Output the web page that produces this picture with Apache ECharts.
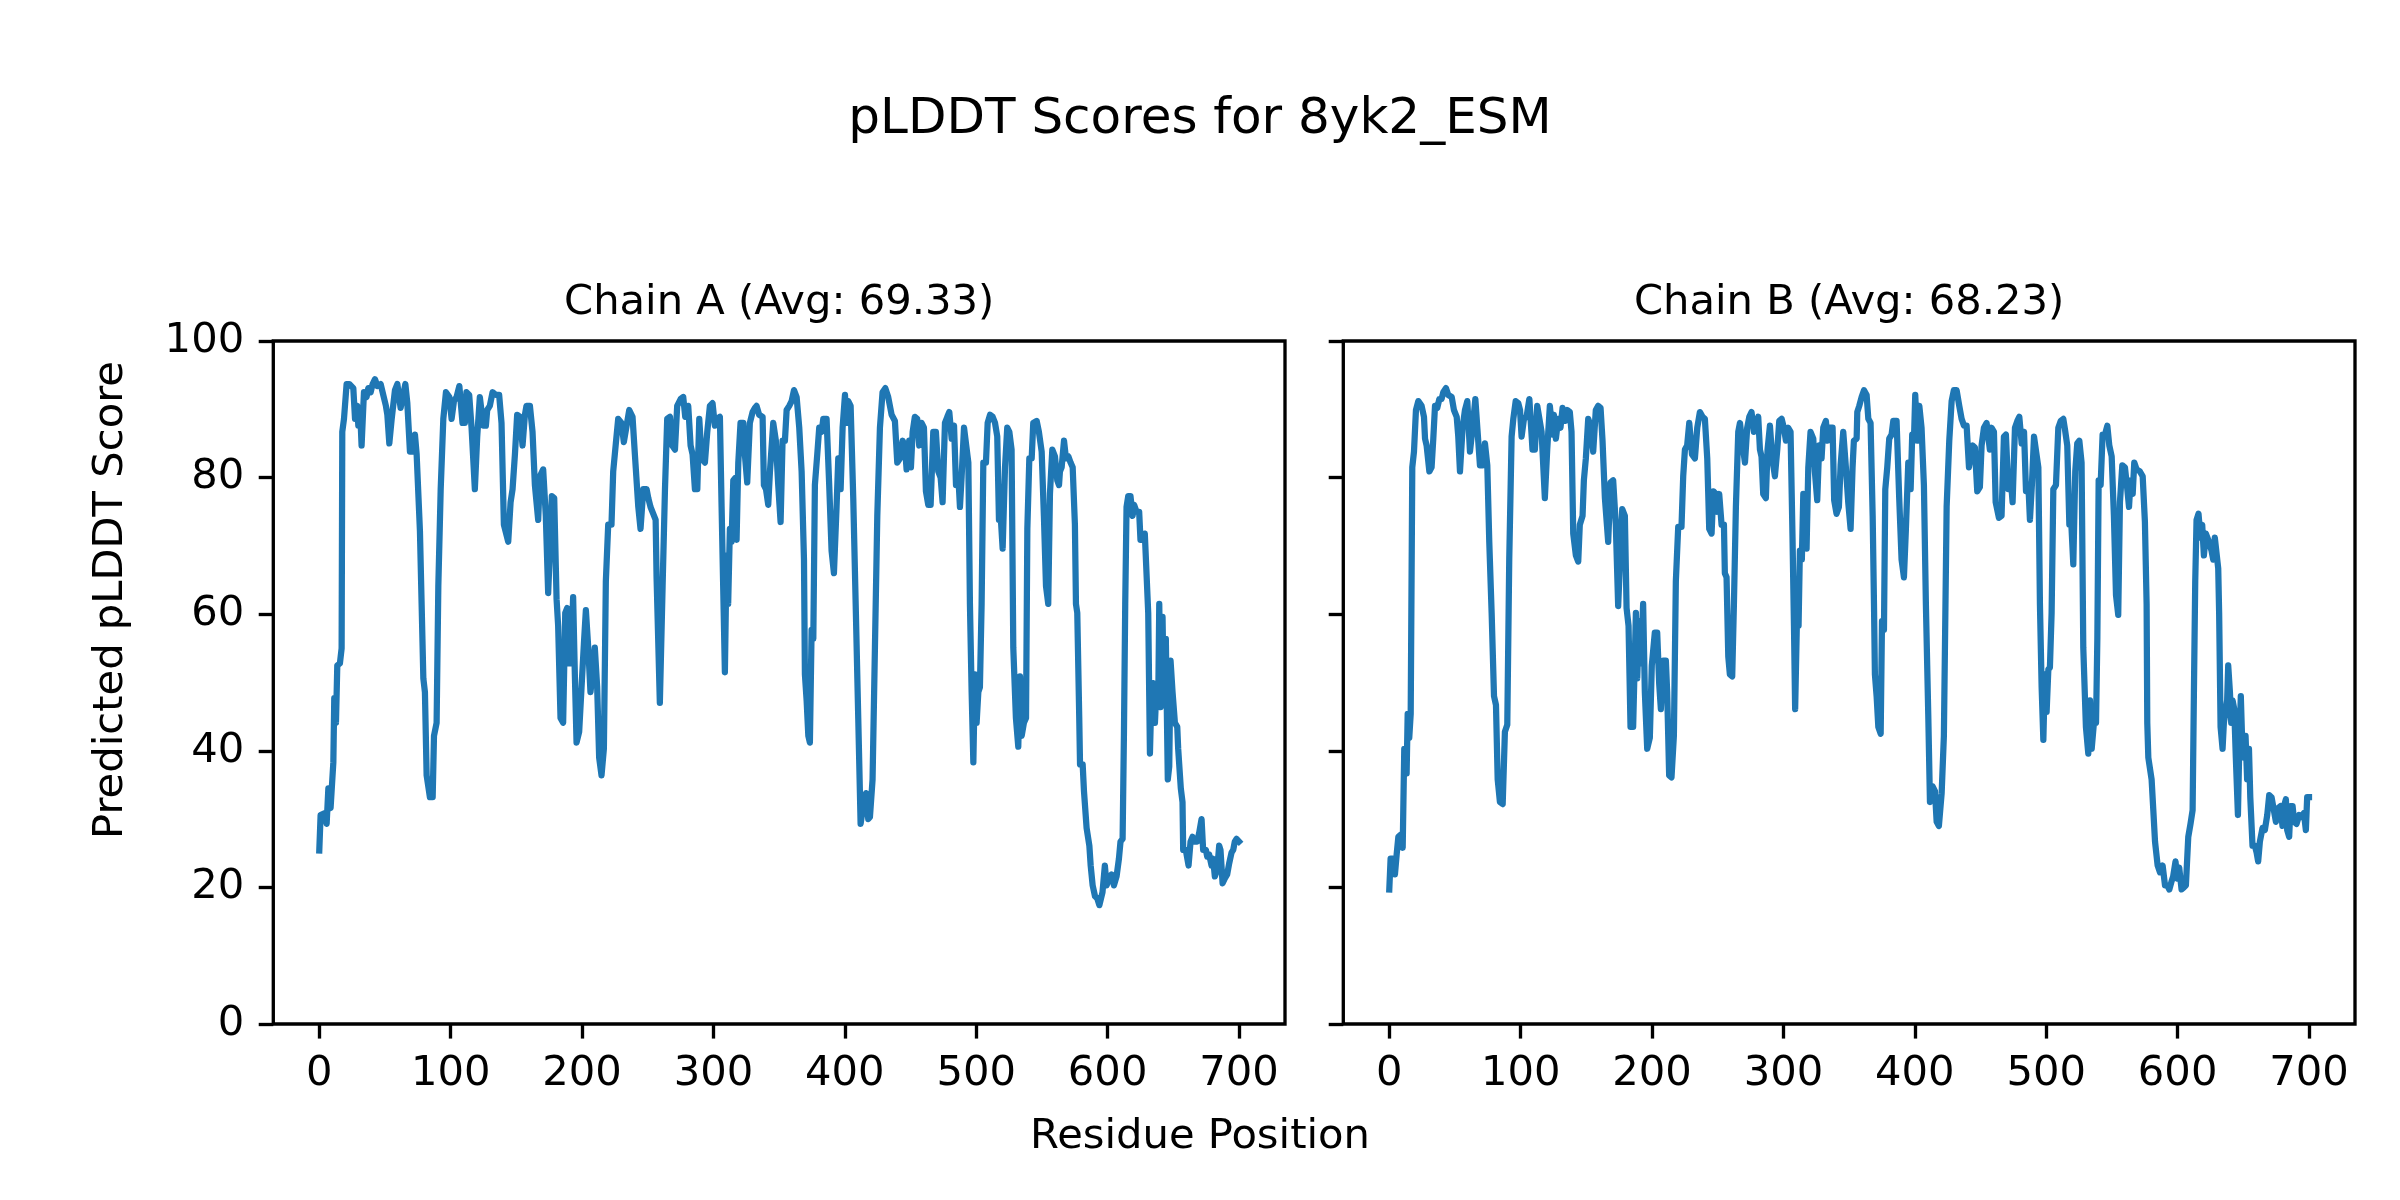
<!DOCTYPE html>
<html>
<head>
<meta charset="utf-8">
<script src="https://cdn.jsdelivr.net/npm/echarts@6/dist/echarts.min.js"></script>
<style>
html,body{margin:0;padding:0;background:#fff;}
#chart{width:2400px;height:1200px;}
</style>
</head>
<body>
<div id="chart"></div>
<script>
const figTitle = 'pLDDT Scores for 8yk2_ESM';
const chainTitles = ['Chain A (Avg: 69.33)', 'Chain B (Avg: 68.23)'];
const xLabel = 'Residue Position';
const yLabel = 'Predicted pLDDT Score';
const xTicks = [0, 100, 200, 300, 400, 500, 600, 700];

const resA = [0,1,4.3,5.6,6.9,8.6,9.9,10.7,11.4,12.7,13.7,15.7,17,17.5,18.8,20.8,22.8,25.9,27.2,28.9,29.7,31,32.2,34,36,37.3,39.1,40.6,42.4,44.2,46.7,48.7,50.7,51.8,53.3,55.1,57.6,59.4,61.9,63.9,65.5,67,69,71.1,72.8,74.1,76.6,79.2,80.4,81.7,84.2,86.3,87.3,89.3,90.6,92.4,94.4,96.4,99,100.7,102.5,104.5,106.6,
109,110.8,112,114.1,115.9,118.4,120.2,122.2,124.8,126.8,127.8,129.8,131.9,134.4,136.9,138.7,140.5,143.8,145.6,147.1,148.9,150.6,152.7,154.7,156.5,157.7,160.3,162.3,164.1,166.6,167.9,170.4,172.4,174.2,175.5,177,178.8,180.6,181.8,183.6,185.6,187.2,188.7,189.7,191.5,193.2,194.5,195.8,197.8,199.6,201.4,202.9,204.7,206.4,208,209.7,211.5,213,214.8,216.6,218.1,219.9,222.4,223.7,225.7,227.5,
230,231.8,233.9,235.9,238.4,240.2,242.8,244.5,246.6,249.1,250.4,252.1,254.2,256,256.7,259.2,261.3,263.1,264.8,266.9,268.6,270.7,272.4,275,277,278.5,280.8,282.6,284.1,285.9,287.7,289.2,291,293.5,295.3,297.3,299.3,301.1,302.9,304.9,306.2,307.4,308.7,310,311.2,312.5,313.8,315.1,316.3,317.6,318.9,320.6,322.7,323.9,325.7,327.7,329.8,331.5,332.8,334.8,337.4,338.4,340,341.7,343,345.5,347.5,349.3,351.1,
352.6,354.4,355.7,357.7,359.5,361.3,363.3,365.3,367.1,368.9,369.6,370.9,372.2,373.4,374.7,376,377.2,379,380.5,382.3,383.6,386.1,388.1,389.9,391.7,393.7,395,396.8,398.3,400.1,401.3,402.6,404.4,406.4,408.4,410.2,412,414,416.1,417.8,419.1,421.1,422.9,424.7,426.7,428.7,430.8,433,435.6,438.1,439.9,441.9,444,445.7,447,449,450.3,451.6,453.3,455.1,456.6,458.4,460.2,461.7,463.5,465.3,467.3,469.3,471.1,472.9,474.4,
476.2,478,479.5,481.3,483.1,484.6,486.4,487.6,488.9,490.7,492.2,494,495.2,496.5,497.8,499,500.3,501.6,502.8,504.1,505.4,507.4,508.7,510.5,512.5,514.3,516,517.3,518.6,520.1,521.9,523.6,525.2,526.9,528.2,530.2,532,533.3,534.6,536.3,537.9,538.9,540.4,542.2,543.4,546,547.7,549.8,551.5,553.1,554.8,556.1,557.9,559.9,561.7,563,563.7,565,566.8,568.3,570.1,571.8,573.4,575.1,575.9,576.9,578.4,579,581,582,583.5,584,586.1,587.1,588.6,590.4,592.1,593.7,
596.1,597.9,599.2,601.2,603,604.8,606.8,608.6,609.8,611.4,612.4,613.4,614.4,615.7,617.4,619,620.2,622,624,625,627.1,628.3,629.6,630.9,632.2,633.4,634.7,636,637.2,638.5,639.3,640.3,641.8,642.8,644.3,645.8,646.9,647.9,649.4,651.2,653,653.7,655,655.7,657,657.5,659.5,661.6,663.1,664.6,666.4,668.2,669.7,671.5,672.7,674.8,675.8,677.3,679.1,680.3,681.6,683.4,684.9,685.9,687.5,689.2,691,692.5,694.3,695.6,696.8,698.1,700];
const scoreA = [25.4,30.6,30.9,29.3,34.5,31.6,31.6,38.3,47.7,44.1,52.5,52.8,55,86.7,88.6,93.7,93.7,93.1,88.6,90.5,87.6,90.2,84.7,92.5,91.8,93.1,92.5,93.7,94.4,93.4,93.7,92.1,90.5,89.2,85,88.6,92.8,93.7,90.2,92.1,93.7,90.9,83.8,83.8,86.3,83.4,72.2,50.6,48.6,36.4,33.2,33.2,42.2,44.1,64.1,78.3,88.6,92.5,91.8,88.6,91.2,91.8,93.4,
88,88,92.5,92.1,87.3,78.3,86,91.8,87.6,87.6,89.9,90.5,92.5,92.1,92.1,88,73.1,70.6,76.4,78.3,83.4,89.2,88.9,84.7,89.2,90.5,90.5,86.7,78.9,73.8,80.2,81.2,74.4,63.1,69.3,77.3,77,62.2,58.3,44.8,44.1,60.2,60.9,52.8,52.8,62.5,51.2,41.2,42.8,49.3,55.7,60.6,55.1,48.6,51.2,55.1,49.3,39,36.4,40.3,64.8,73.1,73.1,80.9,85,88.6,
88,85.2,87.6,89.9,88.9,83.4,75.7,72.5,78.3,78.3,77,75.7,74.7,73.8,65.4,47,64.1,78.3,88.6,88.9,84.7,84.1,90.5,91.5,91.8,88.9,90.5,84.7,83.4,78.3,78.3,88.6,82.8,82.2,86.7,90.5,90.9,87.6,88.6,88.9,75.7,64.1,51.5,68.6,61.5,72.5,70.6,79.6,79.9,70.9,82.2,88,88,83.4,79.3,88,89.6,90.2,90.5,89.2,88.9,78.9,78.3,76,80.9,88,85.4,78.9,73.5,
85.4,85.4,89.9,90.5,91.2,92.8,91.8,87.3,80.9,68,51.2,47.4,42.2,41.2,57.7,56.4,78.9,83.4,87.3,86.7,88.6,88.6,78.9,69.3,66,75.7,82.8,78.3,87.3,92.1,88,91.2,90.5,77,60.2,44.8,29.3,31.9,33.8,30,30.3,35.8,55.1,74.4,87.3,92.5,93.1,91.8,89.2,88.3,82.2,82.8,85.4,84.7,81.2,85.4,81.5,86.7,88.9,88.6,84.7,88,87.3,78,76,76,86.7,86.7,80.9,80,76.4,
88,88.9,89.6,85.7,87.6,78.9,80.2,75.7,80.2,87.3,87.3,82.2,61.5,48.6,38.3,51.2,44.1,48.6,49.3,61.5,82.2,82.2,88,89.2,88.9,88,86,73.8,74.4,69.6,81.5,87.3,86.7,84.1,55.1,44.8,40.6,50.9,42.2,44.1,44.8,72.5,82.8,82.8,88,88.3,86.7,83.8,74.4,64.1,61.5,77.6,84.1,83.1,79.6,78.9,80.9,81.5,85.4,82.8,83.1,82.2,81.5,73.1,61.5,60.2,44.8,38,38,34.1,34.1,28.7,26.1,23.2,20.3,18.7,18.4,17.4,
19.3,23.2,20.3,21.3,21.9,20.3,21.6,24.2,26.7,27.1,42.2,61.5,75.7,77.3,77.3,74.4,76,75,75,70.9,70.9,71.8,71.8,60.2,39.6,48.6,49.9,44.1,49.3,46.7,61.5,46.4,59.6,46.7,56.4,35.8,37.7,53.2,48.6,44.1,43.5,40.3,40.3,34.5,32.5,25.5,25.5,23.2,26.7,27.4,26.7,26.7,28,30,25.5,25.5,24.5,24.8,23.2,24.2,21.6,22.6,26.1,25.5,20.6,21.3,21.9,23.5,25.1,25.5,26.7,27.1,26.7];

const resB = [0,1,2.6,4.3,5.6,6.9,8.6,10.2,11.4,13.2,14,15.2,16.3,17.5,18.8,20.3,22.1,24.6,26.4,27.2,28.4,30.5,32.2,33.5,34.8,36.5,38.1,39.8,41.1,43.1,44.9,47.5,49.2,51.3,52.5,53.8,55.8,57.6,59.4,61.4,63.4,65.5,67,69,71.1,72.8,74.6,76.1,77.9,79.7,81.2,82.5,84.2,86.3,88,89.8,91.3,93.1,94.4,96.2,98.2,99.5,100.7,102.5,104.5,106.6,
109,110.8,112.6,114.1,115.9,118.4,120.2,122.2,124.3,125.3,126.8,128.6,130.3,131.9,133.9,135.4,137.4,138.7,140,142,143.8,145,147.1,148.1,149.6,151.4,153.2,155.2,157.2,159,160.8,162.3,164.1,166.6,168.4,170.4,172.4,174.2,175.5,177.3,179.3,180.6,182.1,183.6,185.6,187.7,188.7,190.2,191.5,193.2,194.5,196.3,198.3,199.8,202.1,203.9,205.4,206.7,208.5,210.5,211.5,213,214.8,216.6,218.1,219.9,222.4,223.7,225,226.7,228.3,
230.4,232.6,234.4,236.4,238.4,240.2,242,243.5,245.3,246.6,248.6,249.6,251.1,252.9,254.7,255.4,256.7,258,259.2,261,262.3,263.8,265.6,266.9,268.9,270.7,272.4,274,275.7,277.5,279,280.8,282.1,283.3,284.6,286.6,287.9,289.7,291.5,293.5,295.3,296.8,298.6,300.3,301.9,303.6,305.4,306.9,308,308.9,310.5,311.5,312.5,314,315.1,316.5,317.6,318.9,320.6,322.7,323.9,325.7,327.2,329,330.3,332.3,333.6,334.8,337.4,338.6,340.4,342.2,343.5,345.5,347.5,349.3,351.1,
352.6,353.6,355.7,356.2,357.7,359.5,361.3,363.3,364.6,366.3,367.9,368.9,369.6,370.9,372.2,374,375,376.5,377.5,379,380.5,382.3,383.6,386.1,388.1,389.9,391.7,393.2,395,396.8,398,399.3,400.3,401.8,403.4,405.1,406.9,408.4,410.2,411.5,413.5,415.3,416.6,418.3,420.4,422.1,424.2,426.2,428,429.7,431.8,433.8,435.6,437.4,439.4,441.2,442.7,444,445.7,447.5,449.5,450.8,452.6,454.6,455.9,457.1,458.4,460.2,461.5,462.7,464,466,467.8,469.3,471.1,472.9,474.4,
476.2,478,479.5,481.3,483.1,484.6,486.4,487.6,489.1,490.7,492.2,494,495.2,496.5,497.8,499,500.3,501.6,502.8,504.1,505.4,507.4,509.2,511,513,514.3,516,517.6,518.8,520.6,522.1,523.6,525.2,526.9,528.2,530.2,532,533.3,534.6,536.3,537.9,538.9,539.9,541.4,542.9,544.7,546.5,548,549.8,551.5,553.1,554.8,556.1,557.9,559.9,561.7,563,564.2,565.8,567,568.8,571.3,573.4,575.1,576.4,576.9,577.7,580.2,581.5,582.8,584,584.8,586.6,588.6,590.4,592.1,593.7,
595.4,596.6,598.4,599.7,601.2,603,604.8,606.3,608.1,609.8,611.4,612.4,613.4,614.4,615.9,617.4,618.7,620,621.5,623.3,624.5,625.8,627.1,628.3,629.6,630.9,631.6,632.7,634.2,635.2,636.7,637.7,638.5,639.8,640.8,641.8,643.1,644.3,645.9,646.9,648.1,649.2,650.4,651.7,652.9,654.3,655.3,657,658.8,660.1,661.3,662.6,664.6,666.4,668.2,669.7,671.5,672.7,674.8,676.5,678.3,679.8,680.9,682.4,683.4,684.9,685.9,687.5,688.7,690.5,692.5,694.3,696.1,697.6,698.6,700];
const scoreB = [19.7,24.2,24.2,21.9,24.8,27.4,27.7,25.8,40.3,36.7,45.4,41.9,45.4,81.5,83.8,89.9,91.2,90.5,88.9,85.7,84.7,80.9,81.5,85.7,90.5,90.2,91.5,91.5,92.5,93.1,92.1,91.8,89.9,88.9,86,80.9,87.3,89.9,91.2,83.8,87.3,91.5,87.3,81.8,81.8,85,81.8,70.6,60.2,48,46.7,35.8,32.5,32.2,42.8,43.8,68,86,88.6,91.2,90.9,89.9,86,88.6,88.9,91.5,
84.1,84.1,90.5,90.5,86.7,77,84.1,90.5,86.3,89.2,85.7,88.6,87.3,90.2,88.3,89.9,89.6,86.7,71.8,68.6,67.7,73.1,74.4,79.6,82.8,88.6,87.6,83.8,89.9,90.5,90.2,85.4,77,70.6,79.3,79.6,73.1,61.2,67.3,75.4,74.4,60.9,58.3,43.5,43.5,60.2,50.6,59,52.8,61.5,48.6,40.3,41.9,52.5,57.3,57.3,49.9,46.1,53.2,53.2,48.6,36.4,36.1,42.2,64.8,72.8,72.8,80.2,84.1,84.7,88,
83.4,82.8,87.3,89.6,88.9,88.6,82.8,72.5,71.8,78,77.6,75,77.6,73.1,73.1,66,65.4,53.8,51.2,50.9,61.5,75.7,86.7,88,84.7,82.2,87.3,88.9,89.6,86.7,87.6,88.9,84.1,83.1,77.6,77,84.1,87.6,82.8,80.2,84.1,88.3,88.6,87.3,85.4,87.3,86.7,71.2,58.3,46.1,61.5,58.3,69.3,68,77.6,77.6,69.6,81.5,86.7,85.7,80.9,76.7,84.7,82.8,87.3,88.3,85.4,87.3,87.3,76.7,74.7,75.7,81.8,86.7,81.5,76.4,72.5,
81.5,85.4,85.7,89.6,90.5,91.8,92.8,92.1,88.6,88,74.4,61.5,51.2,48,43.5,42.5,59,57.7,78.3,81.5,85.7,86.3,88.3,88.3,77,68,65.4,72.5,82.2,78.3,86.3,85.4,92.1,85.4,90.5,87.3,78.9,61.5,45.4,32.5,34.8,34.1,29.6,29,33.8,42.2,75.7,85.4,91.2,92.8,92.8,90.5,88.6,87.6,87.6,81.5,81.5,84.7,84.4,78,78.6,84.7,87.3,88,88,84.1,87.3,86.7,76.4,76.4,74.1,74.4,86,86.3,78.3,80,76.4,
87.3,88.3,88.9,85,86.7,78,79,73.8,79,86,86,81.5,61.5,49.3,41.6,51.2,45.7,51.9,52.2,60.2,78.3,78.9,87.3,88.3,88.6,87,84.7,73.1,74.4,67.3,80.9,85,85.4,82.2,55.1,43.5,39.6,47.4,40.3,44.1,44.1,56.4,79.6,78.9,86.3,86.3,87.6,84.7,83.1,74.4,62.8,59.9,76.4,81.8,81.5,78.3,75.7,79.6,77.6,82.2,81.2,80.9,80.2,73.5,61.5,44.1,39,35.8,31.3,26.7,26.7,23.2,22.2,23.2,20.3,20.3,19.7,
20.9,21.6,23.8,21.3,22.9,19.7,20,20.3,27.4,29.3,31.3,48.6,64.8,73.8,74.7,71.2,73.1,68.6,71.8,70.9,70.9,69.3,68,71.2,71.2,66.7,60.2,43.5,40.3,44.1,44.1,47.4,52.5,48.6,44.1,47.4,46.1,39,30.6,40.3,48,40.9,39,42.2,35.8,40.3,33.2,26.1,26.1,25.1,23.8,26.7,28.7,28.4,30.6,33.5,33.2,31.9,29.6,31.6,31.9,29,31.9,32.9,28.4,27.4,31.9,31.9,29.6,29.3,30.6,30.3,30.9,28.4,33.2,33.2];

const FONT = 'DejaVu Sans';
const PT = 300 / 72;            // figure is 8x4 in at 300 dpi
const tickFont = 10 * PT;
const pairs = (xs, ys) => xs.map((x, i) => [x, ys[i]]);

const gridA = {left: 273.3, top: 341, width: 1011.7, height: 683};
const gridB = {left: 1343.3, top: 341, width: 1011.7, height: 683};

function xAxisDef(gi) {
  return {
    type: 'value', gridIndex: gi, min: -35, max: 735, position: 'bottom',
    axisLine: {show: false, onZero: false},
    splitLine: {show: false},
    axisTick: {show: true, customValues: xTicks, length: 3.5 * PT, inside: false,
               lineStyle: {color: '#000', width: 0.8 * PT}},
    axisLabel: {show: true, customValues: xTicks, margin: 7 * PT,
                fontFamily: FONT, fontSize: tickFont, color: '#000'}
  };
}
function yAxisDef(gi, showLabels) {
  return {
    type: 'value', gridIndex: gi, min: 0, max: 100, interval: 20, position: 'left',
    axisLine: {show: false, onZero: false},
    splitLine: {show: false},
    axisTick: {show: true, length: 3.5 * PT, inside: false,
               lineStyle: {color: '#000', width: 0.8 * PT}},
    axisLabel: {show: showLabels, margin: 7 * PT,
                fontFamily: FONT, fontSize: tickFont, color: '#000'}
  };
}
function txt(text, x, y, size, rot) {
  return {type: 'text', x: x, y: y, rotation: rot || 0, silent: true,
          style: {text: text, fontFamily: FONT, fontSize: size, fill: '#000',
                  align: 'center', verticalAlign: 'middle'}};
}
const lineStyle = {color: '#1f77b4', width: 1.5 * PT, join: 'round', cap: 'square'};

const chart = echarts.init(document.getElementById('chart'), null, {renderer: 'canvas'});
chart.setOption({
  backgroundColor: '#fff',
  animation: false,
  grid: [
    Object.assign({show: true, borderColor: '#000', borderWidth: 0.8 * PT, backgroundColor: 'transparent', containLabel: false}, gridA),
    Object.assign({show: true, borderColor: '#000', borderWidth: 0.8 * PT, backgroundColor: 'transparent', containLabel: false}, gridB)
  ],
  xAxis: [xAxisDef(0), xAxisDef(1)],
  yAxis: [yAxisDef(0, true), yAxisDef(1, false)],
  series: [
    {type: 'line', xAxisIndex: 0, yAxisIndex: 0, data: pairs(resA, scoreA),
     showSymbol: false, symbol: 'none', lineStyle: lineStyle, itemStyle: {color: '#1f77b4'}},
    {type: 'line', xAxisIndex: 1, yAxisIndex: 1, data: pairs(resB, scoreB),
     showSymbol: false, symbol: 'none', lineStyle: lineStyle, itemStyle: {color: '#1f77b4'}}
  ],
  graphic: [
    txt(figTitle, 1200, 120, 12 * PT),
    txt(chainTitles[0], gridA.left + gridA.width / 2, 303, tickFont),
    txt(chainTitles[1], gridB.left + gridB.width / 2, 303, tickFont),
    txt(xLabel, 1200, 1137, tickFont),
    txt(yLabel, 111, 600, tickFont, Math.PI / 2)
  ]
});
</script>
</body>
</html>
